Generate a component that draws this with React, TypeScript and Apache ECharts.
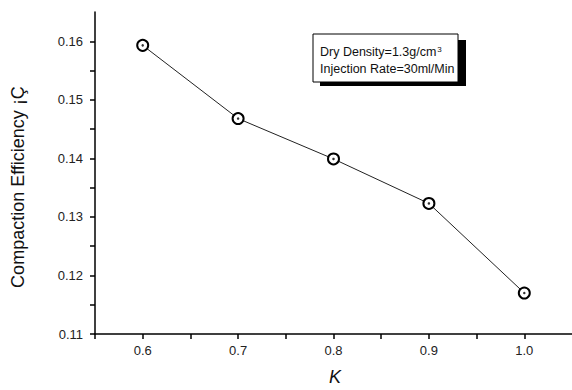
import React, { useEffect, useRef } from "react";
import * as echarts from "echarts";

const kValues = [0.6, 0.7, 0.8, 0.9, 1.0];
const efficiency = [0.1593, 0.1468, 0.1399, 0.1323, 0.117];
const yTickValues = [0.11, 0.115, 0.12, 0.125, 0.13, 0.135, 0.14, 0.145, 0.15, 0.155, 0.16];
const yLabelValues = [0.11, 0.12, 0.13, 0.14, 0.15, 0.16];
const xTickValues = [0.55, 0.6, 0.65, 0.7, 0.75, 0.8, 0.85, 0.9, 0.95, 1.0];
const xLabelValues = [0.6, 0.7, 0.8, 0.9, 1.0];
const yAxisTitle = "Compaction Efficiency ¡Ç";
const xAxisTitle = "K";
const legendLine1 = "Dry Density=1.3g/cm";
const legendSup = "3";
const legendLine2 = "Injection Rate=30ml/Min";

const FONT = "'Liberation Sans', Arial, sans-serif";

export default function App() {
  const ref = useRef<HTMLDivElement>(null);
  useEffect(() => {
    if (!ref.current) return;
    const chart = echarts.init(ref.current, undefined, { renderer: "svg" });
    const pts = kValues.map((k, i) => [k, efficiency[i]]);
    chart.setOption({
      animation: false,
      backgroundColor: "#ffffff",
      grid: { left: 95, top: 12, width: 480, height: 322 },
      xAxis: {
        type: "value",
        min: 0.55,
        max: 1.05,
        axisLine: { show: true, onZero: false, lineStyle: { color: "#000", width: 1.5 } },
        axisTick: {
          show: true,
          inside: false,
          length: 5,
          customValues: xTickValues,
          lineStyle: { color: "#000", width: 1.5 },
        },
        splitLine: { show: false },
        axisLabel: {
          color: "#222",
          fontFamily: FONT,
          fontSize: 13,
          margin: 10,
          customValues: xLabelValues,
          formatter: (v: number) => v.toFixed(1),
        },
      },
      yAxis: {
        type: "value",
        min: 0.11,
        max: 0.165,
        axisLine: { show: true, onZero: false, lineStyle: { color: "#000", width: 1.5 } },
        axisTick: {
          show: true,
          inside: false,
          length: 5,
          customValues: yTickValues,
          lineStyle: { color: "#000", width: 1.5 },
        },
        splitLine: { show: false },
        axisLabel: {
          color: "#222",
          fontFamily: FONT,
          fontSize: 13,
          margin: 12,
          customValues: yLabelValues,
          formatter: (v: number) => v.toFixed(2),
        },
      },
      series: [
        {
          type: "line",
          data: pts,
          symbol: "circle",
          symbolSize: 11,
          showAllSymbol: true,
          lineStyle: { color: "#222", width: 1 },
          itemStyle: { color: "#fff", borderColor: "#000", borderWidth: 2 },
          z: 2,
        },
        {
          type: "scatter",
          data: pts,
          symbol: "circle",
          symbolSize: 2.5,
          itemStyle: { color: "#000" },
          z: 3,
          silent: true,
        },
      ],
      graphic: [
        {
          type: "text",
          x: 18,
          y: 187,
          rotation: Math.PI / 2,
          style: {
            text: yAxisTitle,
            font: `18px ${FONT}`,
            fill: "#111",
            align: "center",
            verticalAlign: "middle",
          },
        },
        {
          type: "text",
          x: 335,
          y: 377,
          style: {
            text: xAxisTitle,
            font: `italic 18px ${FONT}`,
            fill: "#111",
            align: "center",
            verticalAlign: "middle",
          },
        },
        {
          type: "rect",
          shape: { x: 320, y: 40, width: 146, height: 46 },
          style: { fill: "#000" },
          z: 10,
        },
        {
          type: "rect",
          shape: { x: 313, y: 34, width: 145, height: 48 },
          style: { fill: "#fff", stroke: "#000", lineWidth: 1 },
          z: 11,
        },
        {
          type: "text",
          x: 320,
          y: 52,
          z: 12,
          style: {
            text: `{a|${legendLine1}}{s|${legendSup}}`,
            fill: "#111",
            verticalAlign: "middle",
            rich: {
              a: { fontSize: 12.5, fontFamily: FONT, color: "#111", lineHeight: 14 },
              s: { fontSize: 8, fontFamily: FONT, color: "#111", verticalAlign: "top", padding: [0, 0, 6, 1] },
            },
          },
        },
        {
          type: "text",
          x: 320,
          y: 69,
          z: 12,
          style: {
            text: legendLine2,
            font: `12.5px ${FONT}`,
            fill: "#111",
            verticalAlign: "middle",
          },
        },
      ],
    });
    return () => chart.dispose();
  }, []);
  return <div ref={ref} style={{ width: 572, height: 390, position: "absolute", left: 0, top: 0 }} />;
}
